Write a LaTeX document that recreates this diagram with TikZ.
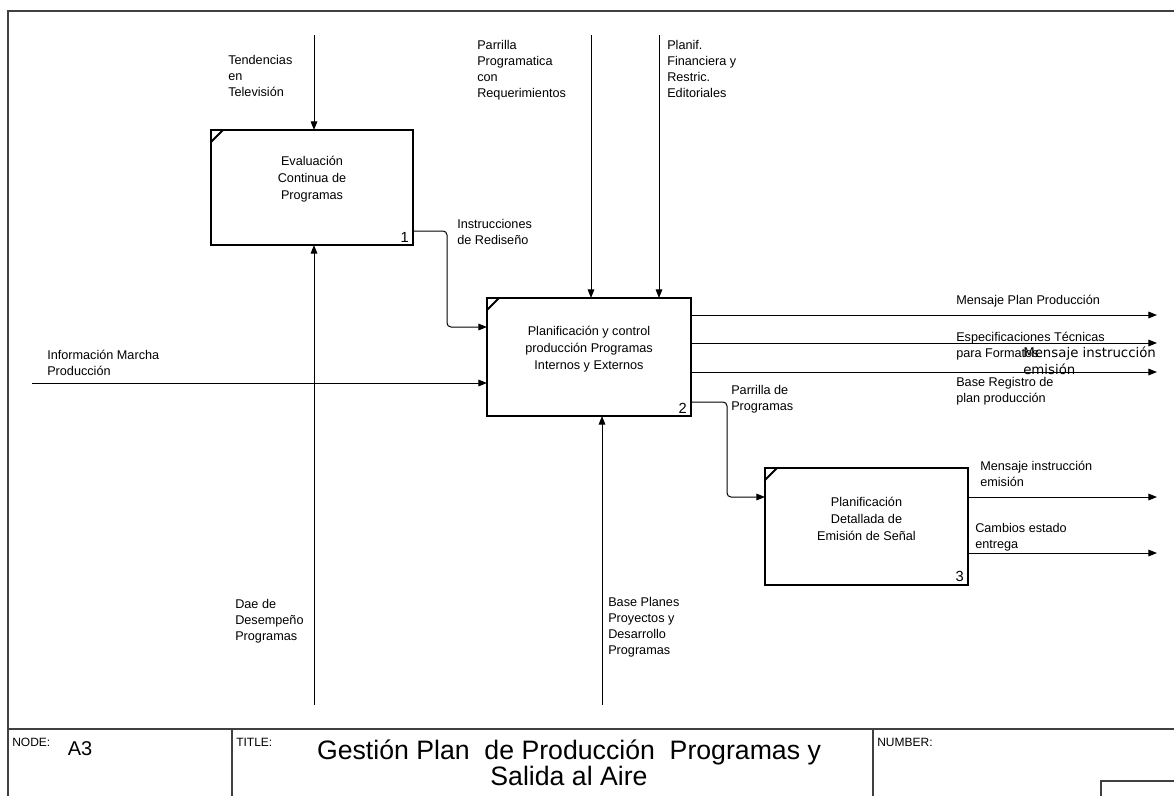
\documentclass[tikz,border=0pt]{standalone}
\usepackage{fontspec}
\setmainfont{Liberation Sans}
\newfontfamily\wideface{DejaVu Sans}
\usetikzlibrary{arrows.meta}
\begin{document}
\begin{tikzpicture}[x=0.75pt,y=-0.75pt,
  fnbox/.style={draw, line width=2.2pt, inner sep=0pt, outer sep=0pt},
  boxtext/.style={align=center, inner sep=0pt, font=\fontsize{9.5}{12.75}\selectfont},
  num/.style={inner sep=0pt, font=\fontsize{11}{12}\selectfont},
  lbl/.style={align=left, anchor=north west, inner sep=0pt, font=\fontsize{9.5}{12}\selectfont},
  arr/.style={-{Triangle[length=6.5pt,width=5pt]}, line width=0.75pt},
  corner/.style={line width=1.5pt},
  frame/.style={line width=0.9pt, draw=black!75},
  head/.style={anchor=north west, inner sep=0pt, font=\fontsize{9}{10}\selectfont}
]
\useasboundingbox (0,0) rectangle (1174,796);

% sheet frame and title block
\draw[frame] (1174,11) -- (8,11) -- (8,796);
\draw[frame] (8,729) -- (1174,729);
\draw[frame] (232,729) -- (232,796);
\draw[frame] (873,729) -- (873,796);
\draw[frame] (1174,781) -- (1101,781) -- (1101,796);
\node[head] (hnode) at (12,738) {NODE:};
\node[inner sep=0pt, font=\fontsize{15}{16}\selectfont] (anum) at (80,749) {A3};
\node[head] (htitle) at (236,738) {TITLE:};
\node[align=center, inner sep=0pt, font=\fontsize{20}{19.5}\selectfont] (title) at (569,763)
  {Gestión Plan~ de Producción~ Programas y\\Salida al Aire};
\node[head] (hnumber) at (877,738) {NUMBER:};

% activity boxes
\node[fnbox, minimum width=151.5pt, minimum height=86.25pt] (b1) at (312,187.5) {};
\node[fnbox, minimum width=153pt, minimum height=88.5pt] (b2) at (589,357) {};
\node[fnbox, minimum width=152.25pt, minimum height=87.75pt] (b3) at (866.5,526.5) {};
\foreach \b in {b1,b2,b3}
  \draw[corner] ([yshift=-9pt]\b.north west) -- ([xshift=9pt]\b.north west);
\node[boxtext] (b1t) at ([yshift=6pt]b1.center) {Evaluación\\Continua de\\Programas};
\node[boxtext] (b2t) at ([yshift=6pt]b2.center) {Planificación y control\\producción Programas\\Internos y Externos};
\node[boxtext] (b3t) at ([yshift=6pt]b3.center) {Planificación\\Detallada de\\Emisión de Señal};
\node[num, anchor=south east] (n1) at ([xshift=-3pt,yshift=2pt]b1.south east) {1};
\node[num, anchor=south east] (n2) at ([xshift=-3pt,yshift=2pt]b2.south east) {2};
\node[num, anchor=south east] (n3) at ([xshift=-3pt,yshift=2pt]b3.south east) {3};

% free ends of the boundary arrows
\coordinate (c1) at (314,35);
\coordinate (c2) at (591,35);
\coordinate (c3) at (659,35);
\coordinate (m1) at (314,705);
\coordinate (m2) at (602,705);
\coordinate (i1) at (32,383);
\coordinate (o1) at (1157,315);
\coordinate (o2) at (1157,343);
\coordinate (o3) at (1157,372);
\coordinate (o4) at (1157,497);
\coordinate (o5) at (1157,553);

% controls and mechanisms
\draw[arr] (c1) -- (c1 |- b1.north);
\draw[arr] (m1) -- (m1 |- b1.south);
\draw[arr] (c2) -- (c2 |- b2.north);
\draw[arr] (c3) -- (c3 |- b2.north);
\draw[arr] (m2) -- (m2 |- b2.south);
\draw[arr] (i1) -- (i1 -| b2.west);

% internal flows
\draw[arr, rounded corners=3pt] (b1.east |- 0,231) -| (447,327) -- (b2.west |- 0,327);
\draw[arr, rounded corners=3pt] (b2.east |- 0,402) -| (727,497) -- (b3.west |- 0,497);

% outputs
\draw[arr] (o1 -| b2.east) -- (o1);
\draw[arr] (o2 -| b2.east) -- (o2);
\draw[arr] (o3 -| b2.east) -- (o3);
\draw[arr] (o4 -| b3.east) -- (o4);
\draw[arr] (o5 -| b3.east) -- (o5);

% arrow labels
\node[lbl] (l1) at (228,55) {Tendencias\\en\\Televisión};
\node[lbl] (l2) at (477,40) {Parrilla\\Programatica\\con\\Requerimientos};
\node[lbl] (l3) at (667,40) {Planif.\\Financiera y\\Restric.\\Editoriales};
\node[lbl] (l4) at (457,219) {Instrucciones\\de Rediseño};
\node[lbl] (l5) at (47,350) {Información Marcha\\Producción};
\node[lbl] (l6) at (235,599) {Dae de\\Desempeño\\Programas};
\node[lbl] (l7) at (608,597) {Base Planes\\Proyectos y\\Desarrollo\\Programas};
\node[lbl] (l8) at (956,295) {Mensaje Plan Producción};
\node[lbl] (l9) at (956,332) {Especificaciones Técnicas\\para Formatos};
\node[lbl] (l10) at (956,377) {Base Registro de\\plan producción};
\node[lbl] (l11) at (731,385) {Parrilla de\\Programas};
\node[lbl] (l12) at (980,461) {Mensaje instrucción\\emisión};
\node[lbl] (l13) at (975,523) {Cambios estado\\entrega};
\node[lbl, font=\wideface\fontsize{10}{12.75}\selectfont] (l14) at (1023,347) {Mensaje instrucción\\emisión};
\end{tikzpicture}
\end{document}
